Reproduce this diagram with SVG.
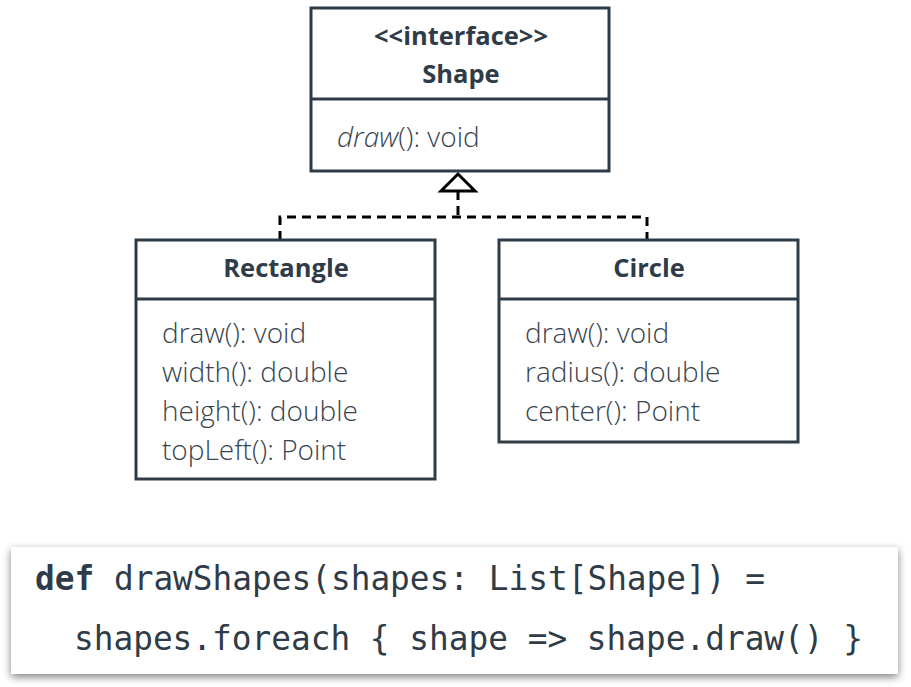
<svg xmlns="http://www.w3.org/2000/svg" width="911" height="687" viewBox="0 0 911 687">
<style>
.box{fill:#fff;stroke:#2f3c48;stroke-width:3}
.div{stroke:#2f3c48;stroke-width:3}
.t{font-family:"Open Sans","Liberation Sans",sans-serif;fill:#38444f;font-size:28px;font-weight:300}
.t.b{font-weight:bold;text-anchor:middle;fill:#2f3c48;font-size:25.5px}
.conn{fill:none;stroke:#000;stroke-width:3;stroke-dasharray:9,6}
.code{font-family:"DejaVu Sans Mono","Liberation Mono",monospace;font-size:34px;fill:#2f3c48}
</style>
<defs>
<filter id="sh" x="-5%" y="-20%" width="110%" height="150%">
<feGaussianBlur in="SourceAlpha" stdDeviation="4"/>
<feOffset dx="0" dy="3"/>
<feComponentTransfer><feFuncA type="linear" slope="0.5"/></feComponentTransfer>
<feMerge><feMergeNode/><feMergeNode in="SourceGraphic"/></feMerge>
</filter>
</defs>
<rect width="911" height="687" fill="#fff"/>
<g id="connectors">
<path class="conn" d="M458 191 V217 M280 240 V217 H647 V240"/>
<polygon points="458,174 441,191 475,191" fill="#fff" stroke="#000" stroke-width="3"/>
</g>
<g id="shape">
<rect class="box" x="311" y="8" width="298" height="163"/>
<line class="div" x1="311" y1="99" x2="609" y2="99"/>
<text class="t b" x="461" y="45">&lt;&lt;interface&gt;&gt;</text>
<text class="t b" x="461" y="83">Shape</text>
<text class="t" x="337" y="147"><tspan font-style="italic">draw</tspan>(): void</text>
</g>
<g id="rectangle">
<rect class="box" x="136" y="240" width="299" height="239"/>
<line class="div" x1="136" y1="299" x2="435" y2="299"/>
<text class="t b" x="286" y="277">Rectangle</text>
<text class="t" x="162" y="343">draw(): void</text>
<text class="t" x="162" y="382">width(): double</text>
<text class="t" x="162" y="421">height(): double</text>
<text class="t" x="162" y="460">topLeft(): Point</text>
</g>
<g id="circle">
<rect class="box" x="499" y="240" width="299" height="202"/>
<line class="div" x1="499" y1="299" x2="798" y2="299"/>
<text class="t b" x="649" y="277">Circle</text>
<text class="t" x="525" y="343">draw(): void</text>
<text class="t" x="525" y="382">radius(): double</text>
<text class="t" x="525" y="421">center(): Point</text>
</g>
<g id="code">
<rect x="11" y="547" width="887" height="127" fill="#fff" filter="url(#sh)"/>
<text class="code" x="35" y="590" textLength="730" lengthAdjust="spacingAndGlyphs"><tspan font-weight="bold">def</tspan> drawShapes(shapes: List[Shape]) =</text>
<text class="code" x="74" y="650" textLength="789" lengthAdjust="spacingAndGlyphs">shapes.foreach { shape =&gt; shape.draw() }</text>
</g>
</svg>
